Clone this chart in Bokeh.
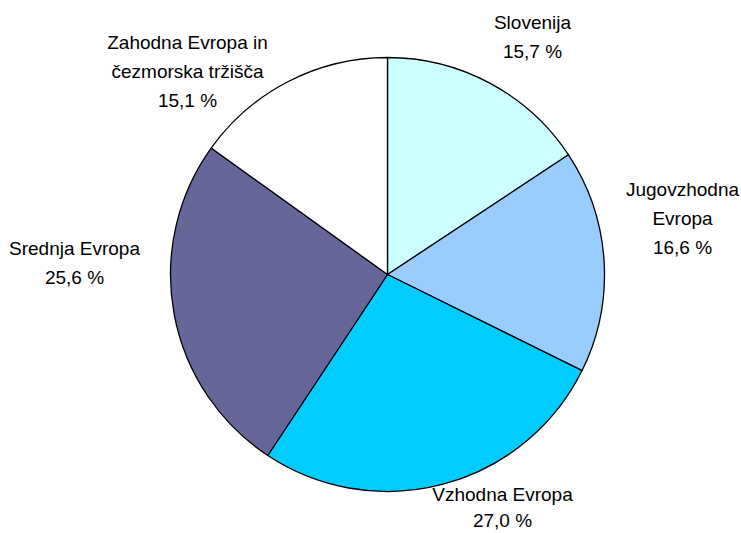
import math
from bokeh.plotting import figure
from bokeh.models import Range1d, ColumnDataSource
from bokeh.core.properties import value
from bokeh.embed import file_html
from bokeh.resources import INLINE

# Data
categories = ["Slovenija", "Jugovzhodna Evropa", "Vzhodna Evropa", "Srednja Evropa",
              "Zahodna Evropa in čezmorska tržišča"]
shares = [15.7, 16.6, 27.0, 25.6, 15.1]
label_lines = [["Slovenija", "15,7 %"],
               ["Jugovzhodna", "Evropa", "16,6 %"],
               ["Vzhodna Evropa", "27,0 %"],
               ["Srednja Evropa", "25,6 %"],
               ["Zahodna Evropa in", "čezmorska tržišča", "15,1 %"]]
colors = ["#CCFFFF", "#99CCFF", "#00CCFF", "#666699", "#FFFFFF"]

# Layout
W, H = 741, 533
cx, cy, R = 387, H - 274, 217
# label anchors (centre of first line) in screen px, and per-label line gap
label_pos = [(532, 22), (682, 189), (502, 494), (74, 248), (187, 42)]
line_gaps = [29, 29, 26, 29, 29]

p = figure(width=W, height=H, output_backend="svg", toolbar_location=None,
           x_range=Range1d(0, W), y_range=Range1d(0, H), min_border=0)
p.axis.visible = False
p.grid.visible = False
p.outline_line_color = None
p.background_fill_color = "white"

total = sum(shares)
starts, ends = [], []
cum = 0.0
for s in shares:
    a0 = math.radians(90 - cum / total * 360)
    cum += s
    a1 = math.radians(90 - cum / total * 360)
    starts.append(a0)
    ends.append(a1)

src = ColumnDataSource(dict(start=starts, end=ends, color=colors, cat=categories))
p.wedge(x=cx, y=cy, radius=R, start_angle="start", end_angle="end", direction="clock",
        fill_color="color", line_color="black", line_width=1.3, source=src)

xs, ys, txt = [], [], []
for (lx, ly), gap, lines in zip(label_pos, line_gaps, label_lines):
    for k, t in enumerate(lines):
        xs.append(lx)
        ys.append(H - (ly + k * gap))
        txt.append(t)

p.text(x=xs, y=ys, text=txt, text_align="center", text_baseline="middle",
       text_font=value("Liberation Sans"), text_font_size="19px", text_color="black")

open("out.html", "w").write(file_html(p, INLINE))
